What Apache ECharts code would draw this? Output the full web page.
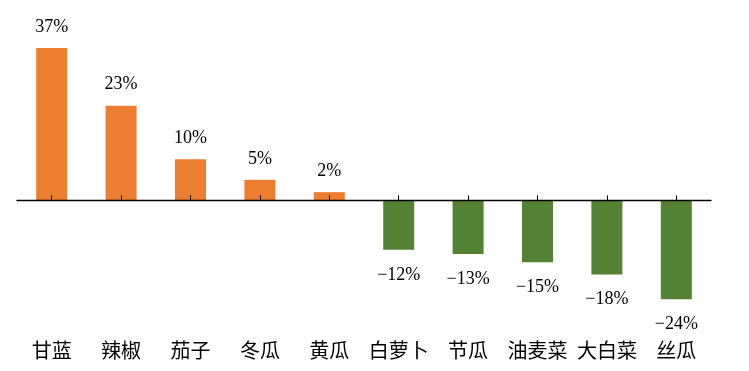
<!DOCTYPE html>
<html><head><meta charset="utf-8">
<script src="https://cdn.jsdelivr.net/npm/echarts@6/dist/echarts.min.js"></script>
<style>html,body{margin:0;padding:0;background:#fff}#c{width:749px;height:371px}</style>
</head><body><div id="c"></div>
<script>
const categories = ['甘蓝','辣椒','茄子','冬瓜','黄瓜','白萝卜','节瓜','油麦菜','大白菜','丝瓜'];
const values = [37,23,10,5,2,-12,-13,-15,-18,-24];
const posColor = '#ED7D31';
const negColor = '#548235';

const chart = echarts.init(document.getElementById('c'), null, {renderer:'canvas'});
const data = values.map(v => ({
  value: v,
  itemStyle: {color: v >= 0 ? posColor : negColor},
  label: {position: v >= 0 ? 'top' : 'bottom', distance: v >= 0 ? 12 : 16}
}));
chart.setOption({
  animation: false,
  grid: {left: 17, right: 38, top: 15, bottom: 47},
  xAxis: [{
    type: 'category', data: categories, z: 5,
    axisLine: {onZero: true, lineStyle: {color: '#000', width: 1.3}},
    axisTick: {show: true, inside: true, alignWithLabel: true, length: 5, lineStyle: {color: '#000'}},
    axisLabel: {show: false}
  }, {
    type: 'category', data: categories, position: 'bottom',
    axisLine: {show: false, onZero: false}, axisTick: {show: false},
    axisLabel: {show: true, interval: 0, margin: 16, color: '#000', fontSize: 20, fontFamily: 'Noto Sans CJK SC'}
  }],
  yAxis: {type: 'value', min: -30, max: 45, show: false, splitLine: {show: false}},
  series: [{
    type: 'bar', data: data, barWidth: 31, xAxisIndex: 0,
    label: {show: true, color: '#000', fontSize: 18, fontFamily: 'Liberation Serif',
      formatter: p => (p.value < 0 ? '\u2212' + Math.abs(p.value) : p.value) + '%'}
  }]
});
</script></body></html>
